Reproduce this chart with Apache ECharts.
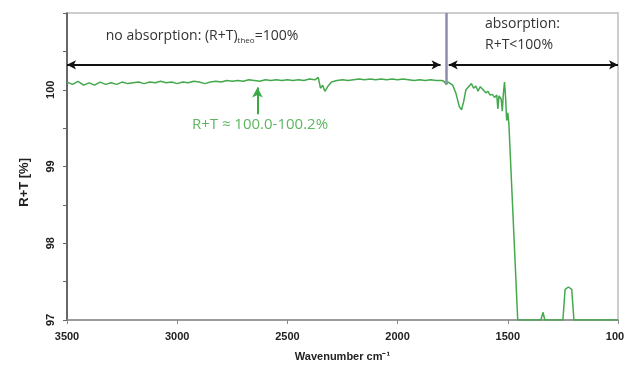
<!DOCTYPE html>
<html>
<head>
<meta charset="utf-8">
<script src="https://cdn.jsdelivr.net/npm/echarts@6/dist/echarts.min.js"></script>
<style>
  html, body { margin: 0; padding: 0; background: #fff; }
  #chart { width: 624px; height: 365px; }
</style>
</head>
<body>
<div id="chart"></div>
<script>
// wavenumber (cm-1) and measured R+T (%)
const wavenumbers = [
  3500, 3475, 3450, 3425, 3400, 3375, 3350, 3325, 3300, 3275,
  3250, 3225, 3200, 3175, 3150, 3125, 3100, 3075, 3050, 3025,
  3000, 2975, 2950, 2925, 2900, 2875, 2850, 2825, 2800, 2775,
  2750, 2725, 2700, 2675, 2650, 2625, 2600, 2575, 2550, 2525,
  2500, 2475, 2450, 2425, 2400, 2375, 2360, 2350, 2340, 2330,
  2315, 2300, 2275, 2250, 2225, 2200, 2175, 2150, 2125, 2100,
  2075, 2050, 2025, 2000, 1975, 1950, 1925, 1900, 1875, 1850,
  1825, 1800, 1790, 1780, 1770, 1750, 1735, 1720, 1710, 1700,
  1690, 1675, 1665, 1655, 1645, 1635, 1625, 1615, 1600, 1590,
  1580, 1570, 1560, 1550, 1545, 1540, 1530, 1525, 1520, 1515,
  1510, 1505, 1500, 1495, 1455, 1350, 1340, 1332, 1250, 1240,
  1225, 1210, 1200, 1000
];
const rtValues = [
  100.10, 100.07, 100.11, 100.06, 100.09, 100.06, 100.10, 100.07, 100.09, 100.07,
  100.10, 100.08, 100.09, 100.10, 100.08, 100.10, 100.09, 100.11, 100.09, 100.10,
  100.08, 100.10, 100.09, 100.11, 100.10, 100.08, 100.10, 100.11, 100.10, 100.12,
  100.11, 100.12, 100.11, 100.13, 100.12, 100.11, 100.13, 100.12, 100.13, 100.12,
  100.13, 100.12, 100.13, 100.12, 100.14, 100.13, 100.16, 100.02, 100.06, 99.98,
  100.05, 100.10, 100.12, 100.13, 100.12, 100.13, 100.14, 100.13, 100.14, 100.13,
  100.14, 100.13, 100.14, 100.13, 100.14, 100.13, 100.12, 100.13, 100.12, 100.13,
  100.12, 100.12, 100.11, 100.07, 100.10, 100.06, 99.95, 99.78, 99.74, 99.85,
  100.00, 100.05, 100.08, 100.02, 100.05, 99.98, 100.04, 100.01, 99.96, 99.98,
  99.93, 99.94, 99.90, 99.93, 99.75, 99.92, 99.88, 99.72, 99.95, 100.10,
  99.90, 99.60, 99.70, 99.55, 97.00, 97.00, 97.10, 97.00, 97.00, 97.40,
  97.43, 97.40, 97.00, 97.00
];

// annotation positions in data units
const arrowLevel = 100.325;
const noAbsLeft = 3500, noAbsRight = 1805;
const absLeft = 1768, absRight = 1000;
const boundaryWn = 1777;
const noteWn = 2636;

const yTicks = [97, 98, 99, 100];

const green = '#44a94c';
const chart = echarts.init(document.getElementById('chart'));

const option = {
  animation: false,
  backgroundColor: '#fff',
  grid: {
    left: 67, right: 6, top: 13, bottom: 45,
    outerBoundsMode: 'none',
    show: true, borderColor: '#bdbdbd', borderWidth: 1.5
  },
  xAxis: {
    type: 'value',
    inverse: true,
    min: 1000, max: 3500, interval: 500,
    name: 'Wavenumber cm\u207B\u00B9',
    nameLocation: 'middle',
    nameGap: 31,
    nameTextStyle: { fontFamily: 'Liberation Sans', fontWeight: 'bold', fontSize: 11, color: '#222' },
    axisLine: { lineStyle: { color: '#8a8a8a', width: 1.5 } },
    axisTick: { length: 4, lineStyle: { color: '#8a8a8a' } },
    axisLabel: {
      fontFamily: 'Liberation Sans', fontWeight: 'bold', fontSize: 11, color: '#222', margin: 11,
      formatter: function (v) { return String(v); }
    },
    splitLine: { show: false }
  },
  yAxis: {
    type: 'value',
    min: 97, max: 101, interval: 0.5,
    axisLine: { show: true, lineStyle: { color: '#444', width: 1.5 } },
    axisTick: { show: true, length: 4, lineStyle: { color: '#666' } },
    axisLabel: {
      rotate: 90, margin: 11,
      fontFamily: 'Liberation Sans', fontWeight: 'bold', fontSize: 11, color: '#222',
      formatter: function (v) { return yTicks.indexOf(v) >= 0 ? String(v) : ''; }
    },
    splitLine: { show: false }
  },
  graphic: [
    {
      type: 'text', left: 18, top: 158, rotation: Math.PI / 2,
      style: { text: 'R+T [%]', fontFamily: 'Liberation Sans', fontWeight: 'bold', fontSize: 13, fill: '#222' }
    },
    {
      type: 'text', x: 202, y: 36,
      style: {
        text: '{a|no absorption: (R+T)}{s|theo}{a|=100%}',
        textAlign: 'center', textVerticalAlign: 'middle',
        rich: {
          a: { fontFamily: 'Open Sans', fontSize: 14, fill: '#333' },
          s: { fontFamily: 'Open Sans', fontSize: 8, fill: '#333', padding: [10, 0, 0, 0] }
        }
      }
    },
    {
      type: 'text', x: 485, y: 14,
      style: { text: 'absorption:\nR+T<100%', fontFamily: 'Open Sans', fontSize: 14, lineHeight: 21, fill: '#333' }
    },
    {
      type: 'text', x: 260, y: 125,
      style: {
        text: 'R+T \u2248 100.0-100.2%', textAlign: 'center', textVerticalAlign: 'middle',
        fontFamily: 'Open Sans', fontSize: 15, fill: '#5cb860'
      }
    }
  ],
  series: [{
    type: 'line',
    data: wavenumbers.map((w, i) => [w, rtValues[i]]),
    showSymbol: false,
    lineStyle: { color: green, width: 1.5 },
    itemStyle: { color: green },
    markLine: {
      silent: true,
      symbol: ['none', 'none'],
      label: { show: false },
      data: [
        [
          { coord: [noAbsLeft, arrowLevel], symbol: 'arrow', symbolSize: [7, 9], lineStyle: { color: '#111', width: 2, type: 'solid' } },
          { coord: [noAbsRight, arrowLevel], symbol: 'arrow', symbolSize: [7, 9] }
        ],
        [
          { coord: [absLeft, arrowLevel], symbol: 'arrow', symbolSize: [7, 9], lineStyle: { color: '#111', width: 2, type: 'solid' } },
          { coord: [absRight, arrowLevel], symbol: 'arrow', symbolSize: [7, 9] }
        ],
        [
          { coord: [boundaryWn, 101], symbol: 'none', lineStyle: { color: '#8c8cab', width: 2.5, type: 'solid' } },
          { coord: [boundaryWn, 100.07], symbol: 'none' }
        ],
        [
          { coord: [noteWn, 99.68], symbol: 'none', lineStyle: { color: '#3aaa46', width: 2, type: 'solid' } },
          { coord: [noteWn, 100.03], symbol: 'arrow', symbolSize: [8, 10] }
        ]
      ]
    }
  }]
};

chart.setOption(option);
</script>
</body>
</html>
